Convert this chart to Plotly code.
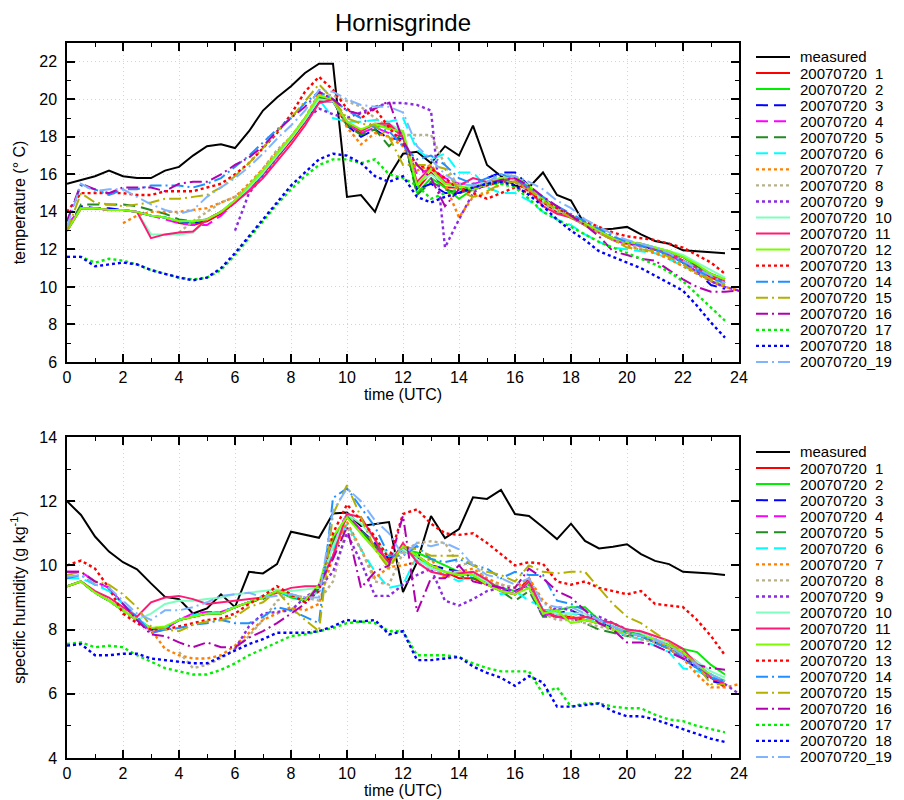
"""Hornisgrinde: measured vs. ensemble runs, temperature and specific humidity."""
import plotly.graph_objects as go

# ── Data ──────────────────────────────────────────────────────────────────────

HOURS = [0, 0.5, 1, 1.5, 2, 2.5, 3, 3.5, 4, 4.5, 5, 5.5, 6, 6.5, 7, 7.5,
         8, 8.5, 9, 9.5, 10, 10.5, 11, 11.5, 12, 12.5, 13, 13.5, 14, 14.5, 15, 15.5,
         16, 16.5, 17, 17.5, 18, 18.5, 19, 19.5, 20, 20.5, 21, 21.5, 22, 22.5, 23, 23.5, 24]

N = None

# temperature (deg C)
T_MEAS = [15.5, 15.7, 15.9, 16.2, 15.9, 15.8, 15.8, 16.2,
          16.4, 17.0, 17.5, 17.6, 17.4, 18.3, 19.4, 20.1,
          20.7, 21.4, 21.9, 21.9, 14.8, 14.9, 14.0, 15.9,
          17.1, 17.2, 16.6, 17.5, 17.0, 18.6, 16.5, 15.9,
          15.4, 15.3, 16.1, 14.9, 14.6, 13.3, 13.05, 13.1,
          13.2, 12.8, 12.45, 12.3, 11.95, 11.9, 11.85, 11.8]
T_01 = [13.0, 14.2, 14.2, 14.1, 14.1, 14.0, 13.8, 13.7,
        13.4, 13.3, 13.5, 13.9, 14.5, 15.2, 16.0, 16.9,
        17.8, 18.8, 19.9, 19.9, 18.7, 18.2, 18.6, 18.6,
        18.0, 15.2, 16.1, 15.3, 15.3, 15.2, 15.4, 15.6,
        15.6, 15.1, 14.5, 14.0, 13.7, 13.3, 12.9, 12.5,
        12.3, 12.2, 12.0, 11.8, 11.4, 11.0, 10.5, 10.2]
T_02 = [13.0, 14.2, 14.2, 14.1, 14.1, 14.0, 13.8, 13.7,
        13.5, 13.4, 13.6, 14.0, 14.6, 15.3, 16.1, 17.0,
        17.9, 18.9, 20.2, 19.9, 18.7, 18.3, 18.6, 18.5,
        18.2, 15.0, 15.8, 15.3, 14.7, 15.2, 15.6, 15.8,
        15.9, 15.3, 14.6, 14.1, 13.8, 13.4, 13.0, 12.6,
        12.4, 12.3, 12.1, 11.9, 11.6, 11.1, 10.7, 10.4]
T_03 = [13.0, 14.3, 14.2, 14.2, 14.1, 14.0, 13.8, 13.7,
        13.5, 13.4, 13.6, 14.0, 14.6, 15.3, 16.1, 17.0,
        17.9, 18.9, 19.9, 19.9, 18.6, 18.0, 18.4, 17.9,
        17.9, 15.2, 15.5, 15.0, 15.0, 15.4, 15.8, 16.1,
        16.1, 15.4, 14.7, 14.3, 13.8, 13.4, 13.0, 12.6,
        12.4, 12.2, 12.0, 11.7, 11.3, 10.8, 10.1, 9.9]
T_04 = [13.3, 14.2, 14.2, 14.1, 14.1, 14.0, 13.8, 13.6,
        13.4, 13.3, 13.3, 13.8, 14.5, 15.2, 16.0, 17.0,
        17.9, 18.9, 20.0, 20.0, 18.8, 18.2, 18.5, 18.2,
        18.0, 16.0, 16.3, 15.8, 15.5, 15.5, 15.6, 15.8,
        15.8, 15.2, 14.6, 14.1, 13.7, 13.3, 12.9, 12.5,
        12.3, 12.2, 12.0, 11.7, 11.3, 10.8, 10.3, 10.0]
T_05 = [13.0, 14.4, 14.4, 14.4, 14.4, 14.3, 14.1, 13.9,
        13.6, 13.5, 13.6, 14.0, 14.6, 15.4, 16.2, 17.1,
        18.0, 19.0, 20.1, 19.9, 18.6, 18.1, 18.4, 17.5,
        18.2, 14.9, 15.6, 15.2, 15.0, 15.2, 15.5, 15.6,
        15.7, 15.2, 14.6, 14.1, 13.8, 13.4, 13.0, 12.6,
        12.4, 12.3, 12.1, 11.8, 11.6, 11.1, 10.7, 10.4]
T_06 = [13.0, 14.2, 14.2, 14.1, 14.1, 14.0, 13.8, 13.7,
        13.5, 13.5, 13.6, 14.0, 14.6, 15.3, 16.1, 17.0,
        17.9, 18.9, 20.0, 19.0, 18.8, 18.8, 18.9, 18.8,
        19.0, 17.3, 16.8, 17.1, 16.1, 16.1, 15.3, 15.0,
        15.0, 14.6, 14.0, 13.6, 13.3, 12.8, 12.4, 12.1,
        12.0, 11.9, 11.8, 11.5, 11.1, 10.8, 10.3, 10.1]
T_07 = [N, N, N, N, 13.4, 13.8, 14.0, 14.0,
        14.0, 14.1, 14.2, 14.5, 14.8, 15.5, 16.3, 17.2,
        18.0, 19.0, 20.3, 20.0, 18.5, 17.6, 18.2, 18.0,
        17.5, 16.2, 16.5, 15.5, 13.7, 14.8, 15.0, 15.5,
        15.6, 15.2, 14.6, 14.1, 13.7, 13.3, 12.9, 12.5,
        12.2, 12.0, 11.8, 11.5, 11.1, 10.7, 10.3, 10.0, 9.8]
T_08 = [N, N, N, N, N, N, N, N,
        12.9, 13.5, 14.0, 14.5, 14.8, 15.4, 16.3, 17.3,
        18.0, 19.0, 20.3, 20.2, 19.9, 19.6, 19.0, 18.5,
        18.1, 18.1, 18.1, 16.5, 15.3, 15.2, 15.4, 15.6,
        15.6, 15.1, 14.5, 14.0, 13.7, 13.3, 12.9, 12.5,
        12.3, 12.1, 11.9, 11.6, 11.2, 10.8, 10.4, 10.1]
T_09 = [N, N, N, N, N, N, N, N,
        N, N, N, N, 13.0, 15.0, 15.9, 16.9,
        17.9, 18.9, 19.5, 19.2, 19.0, 19.3, 19.6, 19.8,
        19.8, 19.7, 19.4, 12.1, 13.6, 15.0, 15.6, 15.8,
        15.8, 15.3, 14.7, 14.2, 13.8, 13.4, 13.0, 12.6,
        12.4, 12.2, 12.0, 11.7, 11.3, 10.8, 10.3, 10.0, 9.8]
T_10 = [13.0, 14.2, 14.2, 14.1, 14.1, 14.0, 12.8, 12.8,
        12.8, 12.9, 13.6, 14.0, 14.6, 15.3, 16.1, 17.0,
        17.9, 18.9, 20.0, 19.9, 18.8, 18.3, 18.6, 18.7,
        18.3, 15.5, 16.0, 15.5, 15.3, 15.4, 15.6, 15.8,
        15.8, 15.2, 14.6, 14.1, 13.8, 13.4, 13.0, 12.6,
        12.4, 12.3, 12.1, 11.9, 11.7, 11.3, 10.9, 10.5]
T_11 = [13.0, 14.2, 14.2, 14.1, 14.1, 14.0, 12.6, 12.8,
        12.9, 12.95, 13.6, 14.0, 14.5, 15.1, 15.8, 16.7,
        17.6, 18.6, 19.8, 20.0, 18.8, 18.3, 18.7, 18.7,
        18.0, 15.6, 16.4, 15.6, 15.4, 15.8, 15.6, 15.7,
        15.8, 15.2, 14.3, 13.9, 13.7, 13.4, 13.0, 12.6,
        12.4, 12.3, 12.0, 11.8, 11.4, 11.0, 10.6, 10.3]
T_12 = [13.0, 14.2, 14.2, 14.1, 14.1, 14.0, 13.8, 13.7,
        13.5, 13.5, 13.6, 14.0, 14.6, 15.4, 16.2, 17.1,
        18.0, 19.0, 20.2, 20.0, 18.8, 18.4, 18.7, 18.4,
        18.3, 15.4, 16.3, 15.5, 15.4, 15.2, 15.5, 15.8,
        15.9, 15.4, 14.7, 14.2, 13.8, 13.4, 13.0, 12.6,
        12.4, 12.3, 12.1, 11.9, 11.6, 11.2, 10.7, 10.4]
T_13 = [14.0, 15.0, 15.0, 15.0, 15.0, 14.9, 14.9, 15.1,
        15.1, 15.1, 15.3, 15.5, 16.0, 16.6, 17.4, 18.2,
        19.2, 20.4, 21.2, 20.5, 19.5, 19.0, 19.5, 18.5,
        17.6, 16.5, 16.3, 15.8, 15.2, 15.0, 14.7, 15.0,
        15.3, 15.0, 14.6, 14.2, 13.8, 13.5, 13.2, 12.9,
        12.7, 12.6, 12.5, 12.3, 12.1, 11.7, 11.3, 10.7]
T_14 = [13.5, 15.4, 15.2, 14.9, 15.2, 15.2, 15.4, 15.4,
        15.4, 15.3, 15.5, 15.8, 16.4, 17.0, 17.7, 18.4,
        19.0, 19.8, 20.4, 20.0, 19.4, 19.0, 18.5, 18.3,
        17.5, 16.8, 17.0, 16.5, 15.8, 15.5, 15.8, 16.0,
        15.8, 15.3, 14.8, 14.3, 13.9, 13.5, 13.1, 12.7,
        12.4, 12.2, 12.0, 11.7, 11.3, 10.9, 10.5, 10.2]
T_15 = [13.0, 15.0, 14.5, 14.4, 14.3, 14.4, 14.5, 14.7,
        14.7, 14.8, 14.9, 15.3, 15.9, 16.6, 17.4, 18.3,
        19.0, 19.9, 20.8, 20.0, 19.0, 18.7, 18.6, 18.0,
        16.5, 16.5, 16.5, 16.3, 15.1, 14.8, 15.1, 15.5,
        15.6, 15.2, 14.6, 14.1, 13.7, 13.3, 12.9, 12.5,
        12.1, 12.0, 11.9, 11.6, 11.2, 10.7, 10.4, 10.1]
T_16 = [13.5, 15.5, 15.2, 15.0, 15.3, 15.3, 15.3, 15.1,
        15.5, 15.6, 15.6, 16.0, 16.5, 16.9, 17.5, 18.3,
        19.0, 19.6, 20.4, 20.0, 19.4, 19.2, 19.5, 19.9,
        17.8, 16.5, 15.8, 14.3, 15.2, 15.3, 15.5, 15.7,
        15.8, 15.4, 14.8, 14.3, 13.8, 13.3, 12.7, 11.9,
        11.7, 11.5, 11.4, 10.9, 10.4, 10.0, 9.75, 9.75, 9.8]
T_17 = [11.6, 11.6, 11.3, 11.5, 11.4, 11.2, 10.9, 10.7,
        10.5, 10.4, 10.5, 10.9, 11.7, 12.6, 13.5, 14.4,
        15.2, 15.9, 16.5, 16.8, 16.8, 16.6, 16.8, 16.0,
        15.8, 15.4, 14.7, 15.0, 15.2, 15.3, 15.5, 15.5,
        15.3, 14.7, 14.0, 13.6, 13.2, 12.8, 12.4, 12.1,
        11.8, 11.5, 11.2, 10.8, 10.3, 9.6, 8.9, 8.2]
T_18 = [11.6, 11.6, 11.1, 11.2, 11.3, 11.2, 10.9, 10.7,
        10.5, 10.35, 10.5, 11.0, 11.8, 12.7, 13.6, 14.5,
        15.4, 16.1, 16.8, 17.1, 17.0, 16.6, 15.9, 15.6,
        15.9, 14.8, 14.5, 14.8, 15.0, 15.3, 15.5, 15.6,
        15.4, 14.9, 14.3, 13.6, 13.0, 12.5, 11.9, 11.6,
        11.3, 11.0, 10.6, 10.2, 9.8, 9.0, 8.1, 7.3]
T_19 = [13.2, 15.5, 15.1, 15.2, 15.2, 14.8, 14.4, 14.1,
        13.9, 14.1, 14.8, 15.3, 15.8, 16.4, 17.1, 17.9,
        18.6, 19.4, 20.5, 20.4, 20.0, 19.7, 19.6, 19.6,
        19.3, 17.5, 16.8, 16.0, 15.5, 15.4, 15.6, 16.0,
        15.9, 15.6, 15.2, 14.6, 14.2, 13.6, 13.2, 12.8,
        12.5, 12.3, 12.1, 11.8, 11.4, 11.0, 10.6, 10.2]

# specific humidity (g/kg)
Q_MEAS = [12.0, 11.57, 10.9, 10.43, 10.1, 9.88, 9.44, 9.02,
          8.95, 8.5, 8.66, 9.1, 8.7, 9.8, 9.75, 10.04,
          11.05, 10.95, 10.86, 11.62, 11.65, 11.23, 11.3, 11.35,
          9.17, 10.1, 11.54, 10.85, 11.13, 12.12, 12.07, 12.35,
          11.6, 11.54, 11.19, 10.82, 11.3, 10.76, 10.53, 10.58,
          10.66, 10.35, 10.14, 10.04, 9.8, 9.78, 9.75, 9.7]
Q_01 = [9.35, 9.5, 9.15, 8.9, 8.6, 8.3, 8.0, 8.05,
        8.3, 8.4, 8.5, 8.5, 8.7, 8.85, 9.0, 9.2,
        9.05, 8.9, 9.3, 10.7, 11.5, 11.1, 10.6, 10.1,
        10.6, 10.3, 10.0, 9.8, 9.6, 9.6, 9.4, 9.2,
        9.1, 9.6, 8.5, 8.4, 8.4, 8.3, 8.2, 8.1,
        7.9, 7.8, 7.7, 7.5, 7.3, 7.0, 6.5, 6.2]
Q_02 = [9.35, 9.5, 9.15, 8.9, 8.6, 8.3, 8.05, 8.05,
        8.3, 8.4, 8.5, 8.5, 8.7, 8.85, 9.0, 9.2,
        9.0, 8.9, 9.3, 10.8, 11.55, 11.0, 10.5, 10.2,
        10.5, 10.4, 10.2, 10.0, 9.8, 9.7, 9.5, 9.3,
        9.2, 9.4, 8.6, 8.6, 8.7, 8.7, 8.3, 8.2,
        7.95, 7.85, 7.7, 7.5, 7.4, 7.3, 6.9, 6.6]
Q_03 = [9.35, 9.5, 9.15, 8.9, 8.6, 8.3, 8.0, 8.0,
        8.3, 8.45, 8.5, 8.55, 8.7, 8.85, 9.0, 9.2,
        9.05, 8.9, 9.3, 10.8, 11.5, 11.1, 10.7, 10.2,
        10.5, 10.2, 10.0, 9.9, 9.8, 9.7, 9.5, 9.2,
        9.2, 9.4, 8.6, 8.5, 8.6, 8.4, 8.3, 8.0,
        7.9, 7.8, 7.6, 7.4, 7.1, 6.8, 6.4, 6.3]
Q_04 = [9.8, 9.8, 9.5, 9.3, 8.8, 8.3, 7.9, 8.0,
        8.3, 8.5, 8.55, 8.55, 8.7, 8.85, 9.0, 9.2,
        9.1, 8.95, 9.3, 10.8, 11.6, 11.1, 10.6, 10.1,
        10.6, 10.2, 9.9, 9.8, 9.7, 9.7, 9.5, 9.3,
        9.1, 9.5, 8.5, 8.4, 8.3, 8.3, 8.2, 8.0,
        7.9, 7.8, 7.6, 7.5, 7.2, 6.9, 6.5, 6.3]
Q_05 = [9.35, 9.5, 9.15, 8.9, 8.6, 8.3, 8.05, 8.05,
        8.3, 8.4, 8.5, 8.5, 8.7, 8.85, 8.95, 9.2,
        9.1, 8.9, 9.3, 10.8, 11.5, 11.1, 10.6, 10.3,
        10.5, 10.2, 10.0, 9.8, 9.7, 9.6, 9.5, 9.2,
        8.9, 9.2, 8.4, 8.4, 8.4, 8.2, 8.0, 7.9,
        7.8, 7.8, 7.6, 7.4, 7.2, 6.9, 6.5, 6.4]
Q_06 = [9.6, 9.6, 9.4, 9.2, 8.8, 8.4, 8.0, 8.05,
        8.3, 8.45, 8.5, 8.55, 8.7, 8.85, 9.0, 9.2,
        9.05, 8.9, 9.2, 10.5, 11.3, 10.5, 9.8, 9.3,
        9.4, 10.3, 9.9, 9.7, 9.5, 9.7, 9.5, 9.1,
        9.2, 8.9, 8.7, 8.5, 8.5, 8.4, 8.2, 8.0,
        7.8, 7.7, 7.5, 7.3, 6.8, 6.7, 6.6, 6.4]
Q_07 = [N, N, N, N, 8.6, 8.3, 8.0, 7.4,
        7.2, 7.1, 7.1, 7.2, 7.5, 7.9, 8.3, 8.5,
        8.7, 8.6, 8.8, 10.3, 11.35, 10.5, 9.6, 9.95,
        10.0, 10.1, 10.2, 9.6, 9.8, 9.9, 9.6, 9.4,
        9.3, 9.6, 8.9, 8.5, 8.4, 8.3, 8.2, 8.0,
        7.9, 7.8, 7.7, 7.4, 7.1, 6.6, 6.2, 6.2, 6.3]
Q_08 = [N, N, N, N, N, N, N, N,
        7.3, 6.8, 6.9, 7.1, 7.4, 7.8, 8.3, 8.9,
        9.1, 9.0, 8.9, 9.5, 11.2, 10.5, 9.5, 9.4,
        10.4, 10.7, 10.75, 10.7, 10.0, 10.1, 9.5, 9.4,
        9.3, 9.4, 8.5, 8.3, 8.3, 8.2, 8.1, 8.0,
        7.8, 7.7, 7.6, 7.4, 7.1, 6.8, 6.5, 6.4]
Q_09 = [N, N, N, N, N, N, N, N,
        N, N, N, N, 7.4, 8.1, 8.5, 8.55,
        8.6, 9.0, 9.3, 9.8, 11.0, 10.1, 9.05, 9.05,
        9.4, 9.7, 9.9, 8.9, 8.75, 8.95, 9.2, 9.3,
        9.2, 9.3, 8.4, 8.7, 8.6, 8.4, 8.4, 8.2,
        8.0, 7.9, 7.7, 7.5, 7.2, 6.8, 6.6, 6.3, 6.0]
Q_10 = [9.35, 9.5, 9.15, 8.9, 8.6, 8.3, 8.5, 8.8,
        8.9, 8.9, 8.95, 9.0, 9.1, 9.15, 9.2, 9.25,
        9.2, 9.25, 9.3, 10.6, 11.6, 11.3, 10.8, 10.3,
        10.5, 10.2, 9.9, 9.8, 9.8, 9.7, 9.5, 9.2,
        9.1, 9.5, 8.6, 8.5, 8.5, 8.5, 8.3, 8.1,
        8.0, 7.9, 7.7, 7.6, 7.3, 7.0, 6.7, 6.5]
Q_11 = [9.35, 9.5, 9.2, 9.0, 8.7, 8.4, 8.85, 9.0,
        9.05, 8.95, 8.8, 8.85, 8.9, 8.95, 9.0, 9.15,
        9.3, 9.35, 9.35, 10.3, 11.6, 11.5, 10.8, 10.0,
        10.7, 10.1, 9.8, 9.7, 9.75, 9.8, 9.55, 9.2,
        9.1, 9.5, 8.6, 8.4, 8.35, 8.4, 8.3, 8.2,
        8.0, 7.95, 7.8, 7.65, 7.4, 6.9, 6.5, 6.3]
Q_12 = [9.35, 9.5, 9.15, 8.9, 8.6, 8.3, 8.05, 8.1,
        8.3, 8.4, 8.5, 8.5, 8.7, 8.85, 9.0, 9.2,
        9.1, 8.9, 9.4, 10.9, 11.5, 11.0, 10.5, 10.0,
        10.6, 10.3, 10.0, 9.8, 9.7, 9.7, 9.4, 9.2,
        9.1, 9.3, 8.5, 8.6, 8.2, 8.3, 8.2, 8.0,
        7.9, 7.8, 7.7, 7.5, 7.3, 6.9, 6.6, 6.4]
Q_13 = [10.0, 10.15, 9.9, 9.3, 8.5, 8.2, 8.0, 8.0,
        8.1, 8.2, 8.3, 8.35, 8.5, 8.8, 9.05, 9.35,
        9.1, 8.85, 9.2, 11.0, 11.9, 11.4, 10.9, 10.2,
        11.6, 11.75, 11.3, 11.0, 10.95, 11.0, 10.7, 10.35,
        10.0, 10.1, 10.05, 9.5, 9.4, 9.5, 9.3, 9.2,
        9.1, 9.2, 8.8, 8.75, 8.7, 8.3, 7.8, 7.2]
Q_14 = [9.6, 9.7, 9.4, 9.3, 8.8, 8.4, 7.9, 8.0,
        8.05, 8.15, 8.2, 8.3, 8.2, 8.2, 8.4, 8.7,
        8.6, 8.4, 8.2, 12.1, 12.4, 11.8, 11.2, 10.3,
        10.3, 10.6, 10.2, 10.1, 10.2, 10.0, 9.9, 9.6,
        9.8, 9.7, 9.7, 8.9, 8.8, 8.6, 8.3, 8.1,
        7.9, 7.8, 7.6, 7.4, 7.1, 6.8, 6.5, 6.4]
Q_15 = [9.7, 9.8, 9.5, 9.4, 9.1, 8.7, 8.1, 8.0,
        7.95, 8.15, 8.25, 8.3, 8.4, 8.7, 8.85, 9.2,
        8.7, 8.3, 7.95, 11.6, 12.5, 11.5, 10.5, 9.9,
        10.6, 10.5, 10.3, 10.3, 10.3, 10.0, 9.8, 9.7,
        9.5, 10.0, 9.8, 9.75, 9.8, 9.8, 9.3, 8.8,
        8.4, 8.2, 7.9, 7.6, 7.3, 6.9, 6.3, 6.3]
Q_16 = [9.8, 9.8, 9.5, 9.3, 8.8, 8.3, 7.85, 7.8,
        7.6, 7.45, 7.6, 7.45, 7.45, 7.75, 7.95, 8.2,
        8.5, 8.8, 9.4, 10.2, 11.2, 9.3, 9.8, 10.0,
        11.55, 8.55, 9.6, 9.6, 10.0, 9.5, 9.4, 9.3,
        9.3, 9.9, 9.6, 9.2, 9.0, 8.6, 8.2, 8.0,
        7.6, 7.6, 7.5, 7.3, 7.1, 6.9, 6.8, 6.75]
Q_17 = [7.55, 7.6, 7.45, 7.5, 7.45, 7.2, 7.0, 6.8,
        6.7, 6.6, 6.6, 6.75, 6.95, 7.2, 7.4, 7.6,
        7.8, 7.85, 7.95, 8.05, 8.2, 8.25, 8.2, 7.95,
        7.95, 7.2, 7.2, 7.2, 7.15, 6.95, 6.8, 6.7,
        6.7, 6.7, 6.0, 6.2, 5.6, 5.7, 5.7, 5.6,
        5.55, 5.55, 5.35, 5.2, 5.15, 5.0, 4.9, 4.8]
Q_18 = [7.5, 7.55, 7.2, 7.2, 7.25, 7.25, 7.1, 7.05,
        7.0, 6.95, 6.95, 7.15, 7.35, 7.55, 7.7, 7.9,
        7.9, 7.9, 7.95, 8.1, 8.3, 8.25, 8.3, 7.85,
        7.95, 7.05, 7.05, 7.1, 7.15, 6.85, 6.65, 6.5,
        6.25, 6.55, 6.35, 5.6, 5.6, 5.65, 5.7, 5.45,
        5.3, 5.3, 5.2, 5.05, 4.9, 4.75, 4.6, 4.5]
Q_19 = [9.65, 9.7, 9.4, 9.3, 8.9, 8.5, 8.3, 8.6,
        8.6, 8.7, 8.85, 9.05, 9.1, 9.15, 9.0, 9.05,
        9.1, 9.0, 9.0, 11.7, 12.4, 12.0, 11.4, 11.0,
        10.3, 10.7, 10.6, 10.7, 10.5, 10.0, 9.7, 9.6,
        9.4, 9.6, 8.8, 8.7, 8.7, 8.5, 8.3, 8.1,
        7.9, 7.8, 7.7, 7.5, 7.2, 6.9, 6.6, 6.4]

NAMES = ["measured",
         "20070720\u00a0\u00a01", "20070720\u00a0\u00a02", "20070720\u00a0\u00a03",
         "20070720\u00a0\u00a04", "20070720\u00a0\u00a05", "20070720\u00a0\u00a06",
         "20070720\u00a0\u00a07", "20070720\u00a0\u00a08", "20070720\u00a0\u00a09",
         "20070720\u00a0\u00a010", "20070720\u00a0\u00a011", "20070720\u00a0\u00a012",
         "20070720\u00a0\u00a013", "20070720\u00a0\u00a014", "20070720\u00a0\u00a015",
         "20070720\u00a0\u00a016", "20070720\u00a0\u00a017", "20070720\u00a0\u00a018",
         "20070720_19"]

T_SERIES = [T_MEAS, T_01, T_02, T_03, T_04, T_05, T_06, T_07, T_08, T_09, T_10,
            T_11, T_12, T_13, T_14, T_15, T_16, T_17, T_18, T_19]
Q_SERIES = [Q_MEAS, Q_01, Q_02, Q_03, Q_04, Q_05, Q_06, Q_07, Q_08, Q_09, Q_10,
            Q_11, Q_12, Q_13, Q_14, Q_15, Q_16, Q_17, Q_18, Q_19]

# ── Style ─────────────────────────────────────────────────────────────────────

FONT = "Liberation Sans, Arial, sans-serif"
SOLID, DASH, DOT, DASHDOT = "solid", "12px,6px", "dot", "12px,4px,2px,4px"

COLORS = ["#000000", "#ff0000", "#00ee00", "#0000ff", "#ff00ff", "#228b22",
          "#00ffff", "#ff8000", "#b8b08a", "#8a2be2", "#7fffbf", "#ff1a75",
          "#7cfc00", "#ff0000", "#1e90ff", "#b4b000", "#b000b0", "#00ee00",
          "#0000ff", "#80b4ff"]
DASHES = [SOLID, SOLID, SOLID, DASH, DASH, DASH, DASH, DOT, DOT, DOT, SOLID,
          SOLID, SOLID, DOT, DASHDOT, DASHDOT, DASHDOT, DOT, DOT, DASHDOT]

# the page body adds an 8px margin, so the figure is shrunk and shifted by it
PAGE_PAD = 8
W, H = 904 - PAGE_PAD, 800 - PAGE_PAD
PLOT_X = (67, 739)          # pixel extent of both plot areas (window coords)
TOP_Y = (43, 362)
BOT_Y = (437, 758)
LEGEND_TOP = [57, 452]      # first legend row (window pixels)
LEGEND_STEP = 16.05


def _px(x):
    return (x - PAGE_PAD) / W


def _py(y):
    return 1 - (y - PAGE_PAD) / H


def _axis(**kw):
    base = dict(
        showline=True, linecolor="black", linewidth=1.5, mirror="allticks",
        ticks="inside", ticklen=8, tickwidth=1.5, tickcolor="black",
        showgrid=True, gridcolor="#d4d4d4", griddash="1px,3px", gridwidth=1,
        zeroline=False, automargin=False, tickfont=dict(size=16, color="black"),
        minor=dict(ticks="inside", ticklen=4, tickwidth=1.2, tickcolor="black",
                   dtick=1, showgrid=False),
        title_font=dict(size=16, color="black"),
    )
    base.update(kw)
    return base


fig = go.Figure()

for panel, series in enumerate([T_SERIES, Q_SERIES]):
    xa, ya = ("x", "y") if panel == 0 else ("x2", "y2")
    for name, ys, color, dash in zip(NAMES, series, COLORS, DASHES):
        fig.add_trace(go.Scatter(
            x=HOURS[:len(ys)], y=ys, xaxis=xa, yaxis=ya,
            mode="lines", name=name, showlegend=False, connectgaps=False,
            line=dict(color=color, dash=dash, width=2.4 if dash == DOT else 2),
        ))

# legends drawn by hand: plotly's minimum row height is too tall for 20 rows
shapes, notes = [], []
for y0 in LEGEND_TOP:
    for i, (name, color, dash) in enumerate(zip(NAMES, COLORS, DASHES)):
        yy = _py(y0 + i * LEGEND_STEP)
        shapes.append(dict(
            type="line", xref="paper", yref="paper",
            x0=_px(756), x1=_px(790), y0=yy, y1=yy,
            line=dict(color=color, dash=dash, width=2.4 if dash == DOT else 2),
        ))
        notes.append(dict(
            xref="paper", yref="paper", x=_px(798), y=yy, text=name,
            showarrow=False, xanchor="left", yanchor="middle",
            font=dict(size=15, color="black"),
        ))

notes.append(dict(
    xref="paper", yref="paper", x=_px(403), y=_py(23), text="Hornisgrinde",
    showarrow=False, xanchor="center", yanchor="middle",
    font=dict(size=24, color="black"),
))

xdom = [_px(PLOT_X[0]), _px(PLOT_X[1])]
fig.update_layout(
    width=W, height=H,
    margin=dict(l=0, r=0, t=0, b=0),
    paper_bgcolor="white", plot_bgcolor="white",
    font=dict(family=FONT, color="black"),
    xaxis=_axis(domain=xdom, range=[0, 24], dtick=2, tick0=0, anchor="y",
                title=dict(text="time (UTC)", standoff=0)),
    yaxis=_axis(domain=[_py(TOP_Y[1]), _py(TOP_Y[0])], range=[6, 23], dtick=2,
                tick0=0, anchor="x", ticklabelstandoff=5,
                title=dict(text="temperature (° C)", standoff=10)),
    xaxis2=_axis(domain=xdom, range=[0, 24], dtick=2, tick0=0, anchor="y2",
                 title=dict(text="time (UTC)", standoff=0)),
    yaxis2=_axis(domain=[_py(BOT_Y[1]), _py(BOT_Y[0])], range=[4, 14], dtick=2,
                 tick0=0, anchor="x2", ticklabelstandoff=5,
                 title=dict(text="specific humidity (g kg<sup>-1</sup>)", standoff=10)),
    shapes=shapes,
    annotations=notes,
    showlegend=False,
)

fig.write_html("out.html")
